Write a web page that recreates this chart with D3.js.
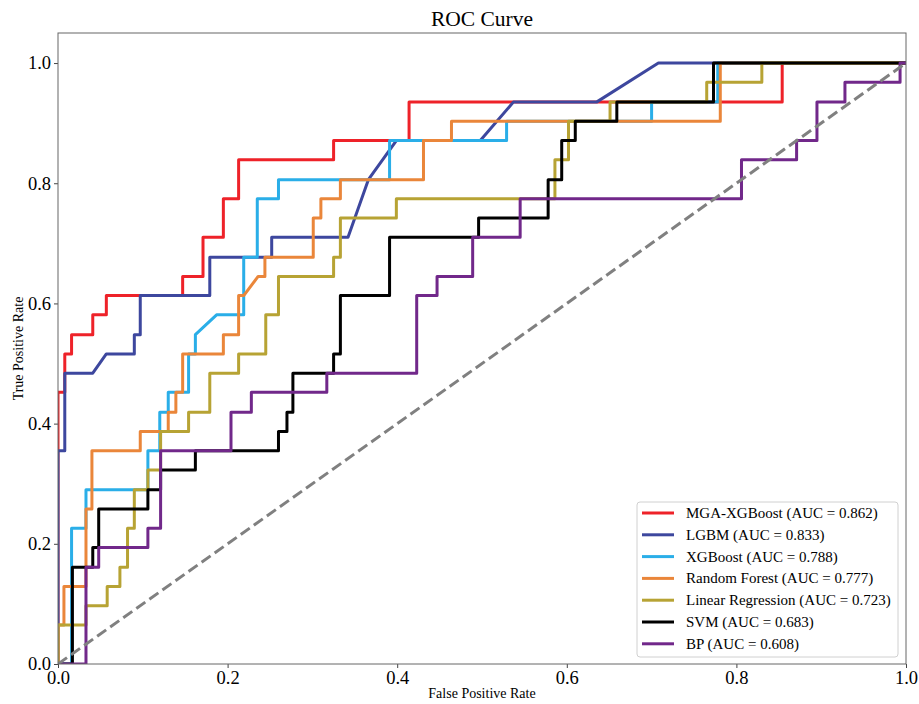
<!DOCTYPE html>
<html>
<head>
<meta charset="utf-8">
<script src="https://cdn.jsdelivr.net/npm/d3@7"></script>
<style>
  body { margin: 0; background: #fff; }
  svg { display: block; }
</style>
</head>
<body>
<svg id="chart"></svg>
<script>
// model names, AUC and line colours (legend order = draw order)
const modelNames = ['MGA-XGBoost', 'LGBM', 'XGBoost', 'Random Forest', 'Linear Regression', 'SVM', 'BP'];
const aucValues = [0.862, 0.833, 0.788, 0.777, 0.723, 0.683, 0.608];
const lineColors = ['#ee2229', '#3d479e', '#2aaee8', '#ea863a', '#b7a334', '#000000', '#71288a'];

// ROC points
const fprMGA = [0, 0, 0.008, 0.008, 0.016, 0.016, 0.041, 0.041, 0.057, 0.057, 0.147, 0.147, 0.171, 0.171, 0.195, 0.195, 0.213, 0.213, 0.325, 0.325, 0.414, 0.414, 0.854, 0.854, 1];
const tprMGA = [0, 0.452, 0.452, 0.516, 0.516, 0.548, 0.548, 0.581, 0.581, 0.613, 0.613, 0.645, 0.645, 0.710, 0.710, 0.774, 0.774, 0.839, 0.839, 0.871, 0.871, 0.935, 0.935, 1, 1];

const fprLGBM = [0, 0, 0.008, 0.008, 0.041, 0.057, 0.090, 0.090, 0.097, 0.097, 0.179, 0.179, 0.252, 0.252, 0.342, 0.366, 0.399, 0.498, 0.537, 0.635, 0.708, 1];
const tprLGBM = [0, 0.355, 0.355, 0.484, 0.484, 0.516, 0.516, 0.548, 0.548, 0.613, 0.613, 0.677, 0.677, 0.710, 0.710, 0.806, 0.871, 0.871, 0.935, 0.935, 1, 1];

const fprXGB = [0, 0.016, 0.016, 0.033, 0.033, 0.106, 0.106, 0.120, 0.120, 0.130, 0.130, 0.154, 0.154, 0.162, 0.162, 0.187, 0.219, 0.219, 0.235, 0.235, 0.260, 0.260, 0.391, 0.391, 0.529, 0.529, 0.700, 0.700, 0.778, 0.778, 1];
const tprXGB = [0, 0, 0.226, 0.226, 0.290, 0.290, 0.355, 0.355, 0.419, 0.419, 0.452, 0.452, 0.516, 0.516, 0.548, 0.581, 0.581, 0.677, 0.677, 0.774, 0.774, 0.806, 0.806, 0.871, 0.871, 0.903, 0.903, 0.935, 0.935, 1, 1];

const fprRF = [0, 0, 0.007, 0.007, 0.033, 0.033, 0.040, 0.040, 0.097, 0.097, 0.130, 0.130, 0.139, 0.139, 0.147, 0.147, 0.195, 0.195, 0.213, 0.213, 0.219, 0.236, 0.244, 0.244, 0.301, 0.301, 0.310, 0.310, 0.333, 0.333, 0.431, 0.431, 0.464, 0.464, 0.781, 0.781, 1];
const tprRF = [0, 0.065, 0.065, 0.129, 0.129, 0.258, 0.258, 0.355, 0.355, 0.387, 0.387, 0.419, 0.419, 0.452, 0.452, 0.516, 0.516, 0.548, 0.548, 0.613, 0.613, 0.645, 0.645, 0.677, 0.677, 0.742, 0.742, 0.774, 0.774, 0.806, 0.806, 0.871, 0.871, 0.903, 0.903, 1, 1];

const fprLR = [0, 0, 0.033, 0.033, 0.058, 0.058, 0.073, 0.073, 0.082, 0.082, 0.090, 0.090, 0.106, 0.106, 0.121, 0.121, 0.154, 0.154, 0.179, 0.179, 0.213, 0.213, 0.245, 0.245, 0.260, 0.260, 0.325, 0.325, 0.333, 0.333, 0.399, 0.399, 0.586, 0.586, 0.602, 0.602, 0.651, 0.651, 0.765, 0.765, 0.830, 0.830, 1];
const tprLR = [0, 0.065, 0.065, 0.097, 0.097, 0.129, 0.129, 0.161, 0.161, 0.226, 0.226, 0.290, 0.290, 0.323, 0.323, 0.387, 0.387, 0.419, 0.419, 0.484, 0.484, 0.516, 0.516, 0.581, 0.581, 0.645, 0.645, 0.677, 0.677, 0.742, 0.742, 0.774, 0.774, 0.839, 0.839, 0.903, 0.903, 0.935, 0.935, 0.968, 0.968, 1, 1];

const fprSVM = [0, 0.017, 0.017, 0.041, 0.041, 0.048, 0.048, 0.106, 0.106, 0.121, 0.121, 0.162, 0.162, 0.260, 0.260, 0.270, 0.270, 0.277, 0.277, 0.325, 0.325, 0.333, 0.333, 0.391, 0.391, 0.496, 0.496, 0.578, 0.578, 0.594, 0.594, 0.610, 0.610, 0.659, 0.659, 0.773, 0.773, 1];
const tprSVM = [0, 0, 0.161, 0.161, 0.194, 0.194, 0.258, 0.258, 0.290, 0.290, 0.323, 0.323, 0.355, 0.355, 0.387, 0.387, 0.419, 0.419, 0.484, 0.484, 0.516, 0.516, 0.613, 0.613, 0.710, 0.710, 0.742, 0.742, 0.806, 0.806, 0.871, 0.871, 0.903, 0.903, 0.935, 0.935, 1, 1];

const fprBP = [0, 0.033, 0.033, 0.048, 0.048, 0.106, 0.106, 0.121, 0.121, 0.204, 0.204, 0.228, 0.228, 0.317, 0.317, 0.423, 0.423, 0.447, 0.447, 0.489, 0.489, 0.545, 0.545, 0.806, 0.806, 0.871, 0.871, 0.895, 0.895, 0.928, 0.928, 0.993, 0.993, 1];
const tprBP = [0, 0, 0.161, 0.161, 0.194, 0.194, 0.226, 0.226, 0.355, 0.355, 0.419, 0.419, 0.452, 0.452, 0.484, 0.484, 0.613, 0.613, 0.645, 0.645, 0.710, 0.710, 0.774, 0.774, 0.839, 0.839, 0.871, 0.871, 0.935, 0.935, 0.968, 0.968, 1, 1];

const tickValues = [0, 0.2, 0.4, 0.6, 0.8, 1.0];
const tickLabels = ['0.0', '0.2', '0.4', '0.6', '0.8', '1.0'];

const fprList = [fprMGA, fprLGBM, fprXGB, fprRF, fprLR, fprSVM, fprBP];
const tprList = [tprMGA, tprLGBM, tprXGB, tprRF, tprLR, tprSVM, tprBP];

const width = 919;
const height = 704;
const margin = { top: 33, right: 13, bottom: 40, left: 58 };
const innerWidth = width - margin.left - margin.right;
const innerHeight = height - margin.top - margin.bottom;
const font = '"Liberation Serif", "Times New Roman", serif';

const svg = d3.select('#chart')
  .attr('width', width)
  .attr('height', height);

const g = svg.append('g')
  .attr('transform', `translate(${margin.left},${margin.top})`);

const x = d3.scaleLinear().domain([0, 1]).range([0, innerWidth]);
const y = d3.scaleLinear().domain([0, 1.05]).range([innerHeight, 0]);

g.append('clipPath').attr('id', 'plot-clip')
  .append('rect')
  .attr('width', innerWidth)
  .attr('height', innerHeight);

// axes
const xAxis = g.append('g')
  .attr('transform', `translate(0,${innerHeight})`)
  .call(d3.axisBottom(x).tickValues(tickValues).tickFormat((d, i) => tickLabels[i]).tickSize(4).tickPadding(3));
const yAxis = g.append('g')
  .call(d3.axisLeft(y).tickValues(tickValues).tickFormat((d, i) => tickLabels[i]).tickSize(4).tickPadding(3));

[xAxis, yAxis].forEach(a => {
  a.select('.domain').remove();
  a.selectAll('.tick line').attr('stroke', '#444').attr('stroke-width', 1);
  a.selectAll('.tick text')
    .attr('fill', '#000')
    .style('font-family', font)
    .style('font-size', '18.5px');
});

// curves
const line = d3.line()
  .x(d => x(d[0]))
  .y(d => y(d[1]));

const curves = g.append('g').attr('clip-path', 'url(#plot-clip)');

modelNames.forEach((name, i) => {
  const pts = fprList[i].map((f, j) => [f, tprList[i][j]]);
  curves.append('path')
    .datum(pts)
    .attr('fill', 'none')
    .attr('stroke', lineColors[i])
    .attr('stroke-width', 3)
    .attr('stroke-linejoin', 'round')
    .attr('stroke-linecap', 'butt')
    .attr('d', line);
});

// chance line
curves.append('path')
  .datum([[0, 0], [1, 1]])
  .attr('fill', 'none')
  .attr('stroke', '#808080')
  .attr('stroke-width', 3)
  .attr('stroke-dasharray', '11,5')
  .attr('d', line);

// frame
g.append('rect')
  .attr('width', innerWidth)
  .attr('height', innerHeight)
  .attr('fill', 'none')
  .attr('stroke', '#666')
  .attr('stroke-width', 1);

// title and axis labels
svg.append('text')
  .attr('x', margin.left + innerWidth / 2)
  .attr('y', 26)
  .attr('text-anchor', 'middle')
  .style('font-family', font)
  .style('font-size', '21.5px')
  .text('ROC Curve');

svg.append('text')
  .attr('x', margin.left + innerWidth / 2)
  .attr('y', 698)
  .attr('text-anchor', 'middle')
  .style('font-family', font)
  .style('font-size', '14px')
  .text('False Positive Rate');

svg.append('text')
  .attr('transform', `translate(23,${margin.top + innerHeight / 2}) rotate(-90)`)
  .attr('text-anchor', 'middle')
  .style('font-family', font)
  .style('font-size', '14px')
  .text('True Positive Rate');

// legend
const legend = svg.append('g').attr('transform', 'translate(637,502)');
legend.append('rect')
  .attr('width', 261)
  .attr('height', 155)
  .attr('rx', 3)
  .attr('fill', 'rgba(255,255,255,0.85)')
  .attr('stroke', '#d0d0d0');

modelNames.forEach((name, i) => {
  const ly = 11 + i * 21.8;
  legend.append('line')
    .attr('x1', 5).attr('x2', 37)
    .attr('y1', ly).attr('y2', ly)
    .attr('stroke', lineColors[i])
    .attr('stroke-width', 3);
  legend.append('text')
    .attr('x', 49)
    .attr('y', ly + 5)
    .style('font-family', font)
    .style('font-size', '15px')
    .text(`${name} (AUC = ${aucValues[i].toFixed(3)})`);
});
</script>
</body>
</html>
